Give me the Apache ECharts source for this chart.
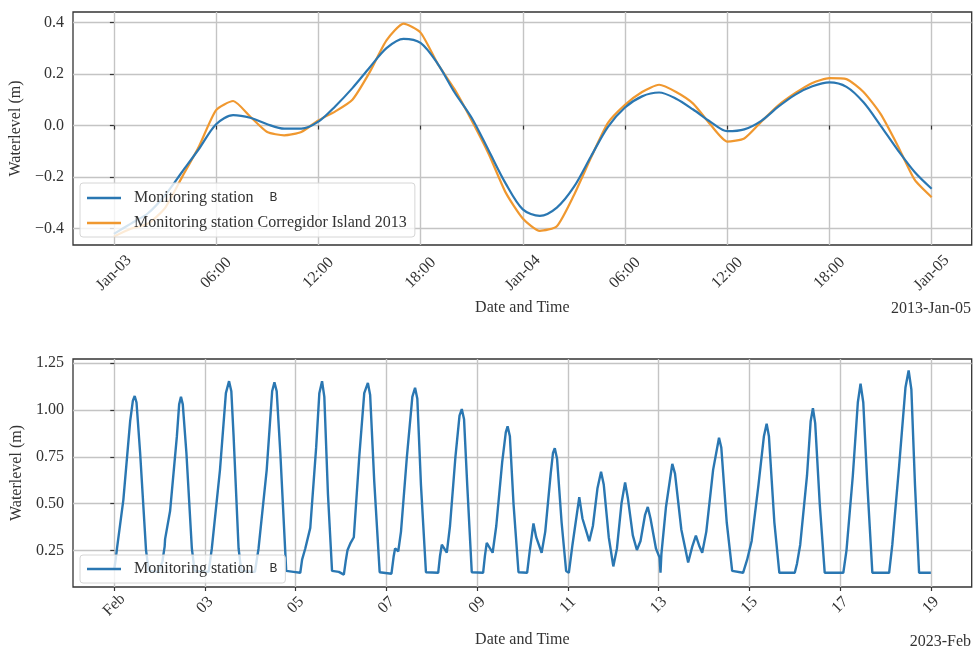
<!DOCTYPE html>
<html><head><meta charset="utf-8">
<script src="https://cdn.jsdelivr.net/npm/echarts@6/dist/echarts.min.js"></script>
<style>html,body{margin:0;padding:0;background:#fff}#c{width:973px;height:649px}</style>
</head><body><div id="c"></div>
<script>
// ---- Top panel: Jan 3-5, 2013 (hours since 2013-01-03 00:00) ----
const hours_2013 = [0,1,2,3,4,5,6,7,8,9,10,11,12,13,14,15,16,17,18,19,20,21,22,23,24,25,26,27,28,29,30,31,32,33,34,35,36,37,38,39,40,41,42,43,44,45,46,47,48];
const station_b_2013 = [-0.42,-0.38,-0.34,-0.27,-0.18,-0.09,0.005,0.04,0.03,0.005,-0.012,-0.012,0.015,0.075,0.145,0.224,0.30,0.336,0.32,0.24,0.128,0.03,-0.097,-0.225,-0.325,-0.35,-0.318,-0.238,-0.12,-0.005,0.07,0.113,0.128,0.104,0.062,0.015,-0.022,-0.015,0.018,0.073,0.12,0.152,0.167,0.15,0.09,0.0,-0.094,-0.18,-0.245];
const corregidor_2013 = [-0.43,-0.40,-0.38,-0.32,-0.20,-0.08,0.06,0.095,0.035,-0.025,-0.038,-0.025,0.02,0.055,0.10,0.205,0.33,0.395,0.36,0.24,0.14,0.02,-0.11,-0.26,-0.36,-0.408,-0.39,-0.27,-0.125,0.01,0.08,0.13,0.158,0.13,0.085,0.005,-0.062,-0.05,0.015,0.078,0.126,0.165,0.184,0.18,0.13,0.045,-0.077,-0.21,-0.278];
const top_x_ticks = [0,6,12,18,24,30,36,42,48];
const top_x_labels = ['Jan-03','06:00','12:00','18:00','Jan-04','06:00','12:00','18:00','Jan-05'];
const top_y_ticks = [-0.4,-0.2,0,0.2,0.4];
const top_y_labels = ['\u22120.4','\u22120.2','0.0','0.2','0.4'];

// ---- Bottom panel: Feb 1-19, 2023 (days since 2023-02-01 00:00) ----
const feb_days = [0.00,0.03,0.06,0.20,0.35,0.41,0.45,0.49,0.57,0.70,0.76,0.98,1.06,1.11,1.12,1.23,1.38,1.43,1.47,1.51,1.59,1.71,1.77,2.08,2.15,2.33,2.46,2.53,2.58,2.63,2.74,2.80,3.10,3.18,3.36,3.48,3.53,3.58,3.66,3.79,3.95,4.10,4.14,4.21,4.32,4.45,4.52,4.58,4.63,4.71,4.80,4.95,5.06,5.10,5.14,5.21,5.28,5.40,5.51,5.59,5.64,5.73,5.85,6.11,6.16,6.19,6.26,6.32,6.45,6.57,6.63,6.68,6.76,6.87,7.14,7.18,7.22,7.33,7.40,7.52,7.61,7.66,7.71,7.78,7.88,8.13,8.17,8.21,8.34,8.42,8.55,8.63,8.67,8.72,8.80,8.91,9.10,9.16,9.24,9.30,9.42,9.50,9.62,9.67,9.71,9.76,9.86,9.96,10.02,10.10,10.25,10.32,10.47,10.55,10.65,10.73,10.79,10.90,11.00,11.08,11.18,11.26,11.32,11.43,11.52,11.60,11.70,11.76,11.82,11.94,12.02,12.04,12.06,12.16,12.30,12.36,12.50,12.65,12.74,12.82,12.90,12.96,13.05,13.20,13.33,13.38,13.50,13.62,13.86,13.95,14.05,14.20,14.32,14.38,14.43,14.55,14.66,15.00,15.05,15.12,15.27,15.35,15.40,15.45,15.55,15.66,16.07,16.14,16.28,16.39,16.45,16.51,16.60,16.71,17.08,17.15,17.30,17.44,17.51,17.57,17.65,17.74,18.00];
const feb_level = [0.15,0.20,0.26,0.52,0.94,1.05,1.075,1.04,0.77,0.25,0.14,0.135,0.19,0.27,0.31,0.46,0.86,1.03,1.07,1.03,0.77,0.26,0.14,0.135,0.26,0.68,1.09,1.154,1.10,0.86,0.26,0.14,0.135,0.26,0.68,1.10,1.148,1.10,0.77,0.14,0.135,0.13,0.20,0.26,0.37,0.80,1.09,1.154,1.07,0.55,0.14,0.135,0.12,0.19,0.25,0.29,0.32,0.75,1.09,1.145,1.08,0.62,0.133,0.125,0.22,0.26,0.245,0.35,0.75,1.07,1.119,1.06,0.60,0.133,0.13,0.22,0.28,0.238,0.38,0.75,0.97,1.005,0.95,0.60,0.133,0.13,0.22,0.29,0.237,0.38,0.72,0.88,0.913,0.86,0.50,0.133,0.13,0.25,0.394,0.32,0.237,0.35,0.66,0.77,0.796,0.74,0.40,0.14,0.13,0.28,0.534,0.42,0.299,0.38,0.58,0.67,0.60,0.32,0.164,0.26,0.50,0.613,0.53,0.33,0.252,0.30,0.44,0.482,0.42,0.26,0.211,0.13,0.23,0.48,0.712,0.66,0.36,0.185,0.27,0.328,0.27,0.237,0.35,0.68,0.852,0.80,0.40,0.14,0.13,0.20,0.30,0.60,0.86,0.927,0.86,0.40,0.13,0.13,0.18,0.28,0.65,0.94,1.009,0.93,0.50,0.13,0.13,0.25,0.65,1.04,1.14,1.04,0.60,0.13,0.13,0.28,0.70,1.12,1.211,1.11,0.60,0.13,0.13];
const bot_x_ticks = [0,2,4,6,8,10,12,14,16,18];
const bot_x_labels = ['Feb','03','05','07','09','11','13','15','17','19'];
const bot_y_ticks = [0.25,0.5,0.75,1.0,1.25];
const bot_y_labels = ['0.25','0.50','0.75','1.00','1.25'];

const FONT = 'Liberation Serif';
const TXT = '#333';
const BLUE = '#2a77b2';
const ORANGE = '#f0982f';
const GRIDC = '#c4c4c4';

function lookup(ticks, labels) {
  return function (v) {
    const i = ticks.findIndex(t => Math.abs(t - v) < 1e-6);
    return i >= 0 ? labels[i] : '';
  };
}

function xAxisCfg(gridIndex, min, max, ticks, labels, margin, nameGap) {
  return {
    type: 'value', gridIndex, min, max,
    name: 'Date and Time', nameLocation: 'middle', nameGap,
    nameTextStyle: {fontFamily: FONT, fontSize: 16, color: TXT},
    axisLine: {show: false},
    axisTick: {show: true, length: 4, customValues: ticks, lineStyle: {color: '#333', width: 1.2}},
    axisLabel: {customValues: ticks, formatter: lookup(ticks, labels), rotate: 45, align: 'center', verticalAlign: 'middle',
      margin, fontFamily: FONT, fontSize: 16, color: TXT},
    splitLine: {show: true, lineStyle: {color: GRIDC, width: 1.4}}
  };
}
function yAxisCfg(gridIndex, min, max, ticks, labels) {
  return {
    type: 'value', gridIndex, min, max,
    name: 'Waterlevel (m)', nameLocation: 'middle', nameGap: 47,
    nameTextStyle: {fontFamily: FONT, fontSize: 16, color: TXT},
    axisLine: {show: false},
    axisTick: {show: true, length: 4, customValues: ticks, lineStyle: {color: '#333', width: 1.2}},
    axisLabel: {customValues: ticks, formatter: lookup(ticks, labels), margin: 9, fontFamily: FONT, fontSize: 16, color: TXT},
    splitLine: {show: true, lineStyle: {color: GRIDC, width: 1.4}}
  };
}

const legendRich = {
  a: {fontFamily: FONT, fontSize: 16, color: TXT},
  b: {fontFamily: 'Liberation Mono', fontSize: 13, color: TXT, padding: [0, 0, 0, 16]}
};
function legendFmt(name) {
  if (name === 'Monitoring station B') return '{a|Monitoring station}{b|B}';
  return '{a|' + name + '}';
}

const chart = echarts.init(document.getElementById('c'), null, {renderer: 'canvas'});
chart.setOption({
  animation: false,
  backgroundColor: '#fff',
  grid: [
    {left: 73, right: 1.3, top: 12, height: 233, show: true, borderColor: '#333', borderWidth: 1.3, backgroundColor: 'transparent'},
    {left: 73, right: 1.3, top: 359, height: 232.7, show: true, borderColor: '#333', borderWidth: 1.3, backgroundColor: 'transparent'}
  ],
  xAxis: [
    xAxisCfg(0, -2.4, 50.35, top_x_ticks, top_x_labels, 28, 55),
    xAxisCfg(1, -0.91, 18.9, bot_x_ticks, bot_x_labels, 18, 45)
  ],
  yAxis: [
    yAxisCfg(0, -0.463, 0.44, top_y_ticks, top_y_labels),
    yAxisCfg(1, 0.054, 1.2725, bot_y_ticks, bot_y_labels)
  ],
  legend: [
    {
      orient: 'vertical', left: 80, top: 183, padding: [7, 8, 6, 7], itemGap: 9,
      itemWidth: 34, itemHeight: 2.4, icon: 'rect',
      backgroundColor: 'rgba(255,255,255,0.8)', borderColor: '#d6d6d6', borderWidth: 1, borderRadius: 3,
      data: ['Monitoring station B', 'Monitoring station Corregidor Island 2013'],
      formatter: legendFmt,
      textStyle: {fontFamily: FONT, fontSize: 16, color: TXT, padding: [0, 0, 0, 8], rich: legendRich}
    },
    {
      orient: 'vertical', left: 80, top: 555, padding: [6, 8, 6, 7], itemGap: 9,
      itemWidth: 34, itemHeight: 2.4, icon: 'rect',
      backgroundColor: 'rgba(255,255,255,0.8)', borderColor: '#d6d6d6', borderWidth: 1, borderRadius: 3,
      data: ['Monitoring station B'],
      formatter: legendFmt,
      textStyle: {fontFamily: FONT, fontSize: 16, color: TXT, padding: [0, 0, 0, 8], rich: legendRich}
    }
  ],
  graphic: [
    {type: 'text', right: 2, top: 301, style: {text: '2013-Jan-05', font: '16px "Liberation Serif"', fill: TXT}},
    {type: 'text', right: 2, top: 634, style: {text: '2023-Feb', font: '16px "Liberation Serif"', fill: TXT}}
  ],
  series: [
    {
      name: 'Monitoring station B', type: 'line', xAxisIndex: 0, yAxisIndex: 0, smooth: 0.3,
      symbol: 'none', lineStyle: {color: BLUE, width: 2.2}, itemStyle: {color: BLUE}, z: 3,
      data: hours_2013.map((h, i) => [h, station_b_2013[i]])
    },
    {
      name: 'Monitoring station Corregidor Island 2013', type: 'line', xAxisIndex: 0, yAxisIndex: 0, smooth: 0.2,
      symbol: 'none', lineStyle: {color: ORANGE, width: 2.2}, itemStyle: {color: ORANGE}, z: 2,
      data: hours_2013.map((h, i) => [h, corregidor_2013[i]])
    },
    {
      name: 'Monitoring station B', type: 'line', xAxisIndex: 1, yAxisIndex: 1,
      symbol: 'none', lineStyle: {color: BLUE, width: 2.4}, itemStyle: {color: BLUE},
      data: feb_days.map((d, i) => [d, feb_level[i]])
    }
  ]
});
</script>
</body></html>
